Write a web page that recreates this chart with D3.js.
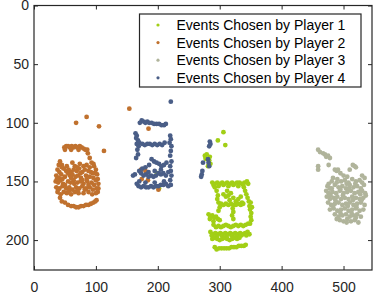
<!DOCTYPE html>
<html><head><meta charset="utf-8">
<script src="https://cdn.jsdelivr.net/npm/d3@7"></script>
<style>html,body{margin:0;padding:0;background:#fff;}svg{display:block;font-family:"Liberation Sans",Arial,sans-serif;}</style>
</head><body>
<svg id="c" width="374" height="294"></svg>
<script>
const seriesNames = ["Events Chosen by Player 1","Events Chosen by Player 2","Events Chosen by Player 3","Events Chosen by Player 4"];
const seriesColors = ["#a2cf16","#c0712e","#b0b49b","#4a5e87"];
const xTicks = [0,100,200,300,400,500];
const yTicks = [0,50,100,150,200];

const player1 = [
[306,108],[297,115],[309,119],[199,143],[202,156],
[276,128],[279,127],[284,129],[278,131],[283,132],[285,135],[281,137],[277,130],
[288,151],[292,152],[296,151],[300,152],[304,151],[308,152],[312,151],[316,152],[320,151],[324,152],[328,151],[332,151],[336,152],[340,151],[344,150],[346,152],
[290,153],[298,154],[306,153],[314,154],[322,153],[330,154],[338,153],
[339,155],[341,158],[343,161],[345,164],[347,167],[348,171],[349,174],[351,177],[350,180],[351,183],[349,186],[352,172],[350,168],
[292,155],[295,158],[297,162],[296,165],[298,168],[300,172],[298,175],
[306,161],[310,163],[314,162],[318,160],[322,164],[312,158],[316,166],[326,167],[330,165],[334,163],[336,168],
[302,169],[306,170],[310,169],[314,170],[318,169],[322,170],[326,170],[330,169],[334,170],[338,169],
[321,173],[322,176],[320,179],[322,182],
[282,178],[285,180],[288,179],[291,181],[294,180],[297,182],[300,183],[284,182],[290,184],
[290,187],[294,189],[298,188],[302,189],[306,188],[310,187],[314,188],[318,189],[322,188],[326,187],[330,188],[334,187],[338,188],[342,187],[346,186],
[285,193],[289,195],[293,194],[297,195],[301,194],[305,195],[309,194],[313,195],[317,194],[321,195],[325,194],[329,195],[333,194],[337,195],[341,194],[345,193],[348,195],
[287,196],[295,197],[303,196],[311,197],[319,196],[327,197],[335,196],[343,196],
[288,199],[292,198],[296,199],[300,200],[304,199],[308,198],[312,199],[316,200],[320,199],[324,198],[328,199],[332,198],
[292,206],[295,208],[299,207],[303,207],[307,207],[311,207],[315,207],[319,206],[323,206],[327,206],[331,205],[335,205],[339,205],[342,204]
];

const player2 = [
[68,100],[85,95],[105,103],[113,124],[154,88],[185,105],[173,140],[180,141],[174,148],[184,149],[201,157],
[49,121],[52,120],[55,120],[58,121],[61,120],[64,121],[67,120],[70,121],[74,120],[77,121],[80,122],[83,123],[86,123],[87,126],[50,123],[60,123],[72,123],
[90,130],[93,134],[97,137],[100,140],[102,144],[103,148],[104,152],[104,156],[103,159],[96,135],[99,143],
[42,133],[45,136],[62,134],[66,137],[74,135],[80,137],[85,136],
[38,140],[41,142],[48,139],[52,141],[56,140],[60,142],[64,140],[69,141],[73,139],[78,142],[82,140],[88,141],[92,142],
[36,145],[40,147],[44,144],[50,146],[58,145],[62,144],[67,146],[71,145],[76,147],[84,145],[90,146],[96,147],[100,149],
[35,150],[39,151],[43,149],[47,152],[55,150],[59,151],[64,149],[70,151],[75,150],[80,152],[86,150],[93,151],[97,153],
[36,155],[41,156],[46,154],[52,156],[57,155],[62,157],[68,155],[73,156],[78,154],[84,156],[90,155],[95,157],[101,156],
[38,159],[43,161],[48,159],[53,160],[60,161],[66,159],[72,160],[80,160],[88,159],[94,161],[100,160],
[42,164],[45,167],[50,168],[55,170],[60,171],[64,171],[68,172],[72,172],[76,171],[80,171],[84,170],[88,170],[92,169],[96,168],[99,167],[101,166],
[45,138],[55,143],[65,152],[75,143],[85,148],[70,158],[50,153],[60,147],[90,138],[95,143],
[40,136],[37,148],[39,157],[53,137],[70,138],[78,149],[88,153],[57,158],[82,157],[46,148]
];

const player3 = [
[459,123],[462,125],[467,126],[470,127],[472,129],[475,128],[478,130],[459,137],[459,140],[476,136],[486,140],[489,141],[491,140],[483,147],[495,143],[500,145],[506,146],[515,136],[518,137],[520,138],[510,140],
[490,148],[496,150],[502,149],[508,151],[514,148],[520,150],[526,149],[530,151],
[474,154],[478,156],[486,153],[492,155],[498,154],[504,156],[510,153],[516,155],[522,154],[528,156],[533,153],
[472,158],[476,160],[482,159],[488,160],[494,158],[500,160],[506,159],[512,158],[518,160],[524,159],[530,158],[535,160],
[473,163],[478,165],[484,164],[490,163],[496,165],[502,164],[508,165],[514,163],[520,164],[526,165],[532,164],[536,162],
[475,168],[480,170],[486,169],[492,168],[498,170],[504,169],[510,168],[516,170],[522,169],[528,168],[534,170],
[478,174],[484,173],[490,175],[496,174],[502,173],[508,175],[514,174],[520,173],[526,175],[532,174],
[486,178],[492,180],[498,179],[504,178],[510,180],[516,179],[522,178],[528,180],
[494,183],[500,184],[506,182],[512,184],[518,183],[524,185],
[481,150],[476,152],[530,145],[534,147],
[489,151],[505,152],[519,152],[481,156],[495,157],[509,156],[527,161],[479,162],[499,162],[515,166],[487,166],[529,166],
[483,171],[507,171],[521,172],[495,177],[513,177],[489,182],[520,181],[505,185]
];

const player4 = [
[171,100],[174,98],[177,99],[180,100],[183,99],[186,100],[190,100],[194,101],[198,101],[202,101],[206,102],[210,102],[213,101],
[221,82],
[164,109],[166,111],[165,113],[168,115],[166,118],[169,120],[167,123],[168,127],[165,130],[160,145],[163,144],
[170,117],[175,118],[179,119],[183,118],[187,118],[191,119],[195,118],[199,119],[203,118],[207,119],[211,117],
[220,111],[221,114],[219,117],[222,120],[221,124],[220,128],[222,133],[220,137],[221,141],[222,145],[220,149],
[190,131],[194,133],[198,134],[202,135],[186,136],[206,137],[210,136],[214,134],
[170,141],[173,143],[177,145],[181,144],[185,146],[189,145],[193,146],[197,145],[201,143],[205,144],[209,143],[213,145],[217,142],[175,139],[180,138],[195,141],[185,142],[205,140],
[166,152],[169,154],[173,155],[177,154],[181,155],[185,155],[189,154],[193,155],[197,154],[201,154],[205,153],[209,153],[213,152],[217,154],[221,153],[170,150],[180,151],[195,151],[210,150],
[284,116],[285,118],[283,120],[281,131],[282,134],[283,137],[273,134],[272,141],[271,144],[270,146]
];

const allSeries = [player1, player2, player3, player4];

const L = 34, R = 372, T = 5.5, B = 270;
const x = d3.scaleLinear().domain([0, 546]).range([L, R]);
const y = d3.scaleLinear().domain([0, 225.5]).range([T, B]);
const svg = d3.select("#c");
const axisColor = "#262626";

allSeries.forEach((pts, i) => {
  svg.append("g").selectAll("circle").data(pts).join("circle")
    .attr("cx", d => x(d[0])).attr("cy", d => y(d[1])).attr("r", 2.4)
    .attr("fill", seriesColors[i]);
});

function styleAxis(g) {
  g.select(".domain").remove();
  g.selectAll("line").attr("stroke", axisColor);
  g.selectAll("text").attr("fill", axisColor).attr("font-size", 14).attr("font-family", "Liberation Sans, Arial, sans-serif");
}
svg.append("g").attr("transform", `translate(0,${B})`)
  .call(d3.axisBottom(x).tickValues(xTicks).tickSizeInner(-4).tickSizeOuter(0).tickPadding(12)).call(styleAxis);
svg.append("g").attr("transform", `translate(0,${T})`)
  .call(d3.axisTop(x).tickValues(xTicks).tickSizeInner(-4).tickSizeOuter(0).tickFormat("")).call(styleAxis);
svg.append("g").attr("transform", `translate(${L},0)`)
  .call(d3.axisLeft(y).tickValues(yTicks).tickSizeInner(-4).tickSizeOuter(0).tickPadding(5)).call(styleAxis);
svg.append("g").attr("transform", `translate(${R},0)`)
  .call(d3.axisRight(y).tickValues(yTicks).tickSizeInner(-4).tickSizeOuter(0).tickFormat("")).call(styleAxis);

svg.append("rect").attr("x", L).attr("y", T).attr("width", R - L).attr("height", B - T)
  .attr("fill", "none").attr("stroke", axisColor).attr("stroke-width", 1.2);

const lg = svg.append("g");
lg.append("rect").attr("x", 139.5).attr("y", 14).attr("width", 221.5).attr("height", 73)
  .attr("fill", "#fff").attr("stroke", axisColor).attr("stroke-width", 1.2);
seriesNames.forEach((name, i) => {
  const cy = 25 + i * 17.6;
  lg.append("circle").attr("cx", 158).attr("cy", cy).attr("r", 1.6).attr("fill", seriesColors[i]);
  lg.append("text").attr("x", 176.5).attr("y", cy).attr("dy", "0.35em")
    .attr("font-size", 14).attr("fill", "#000").text(name);
});
</script>
</body></html>
